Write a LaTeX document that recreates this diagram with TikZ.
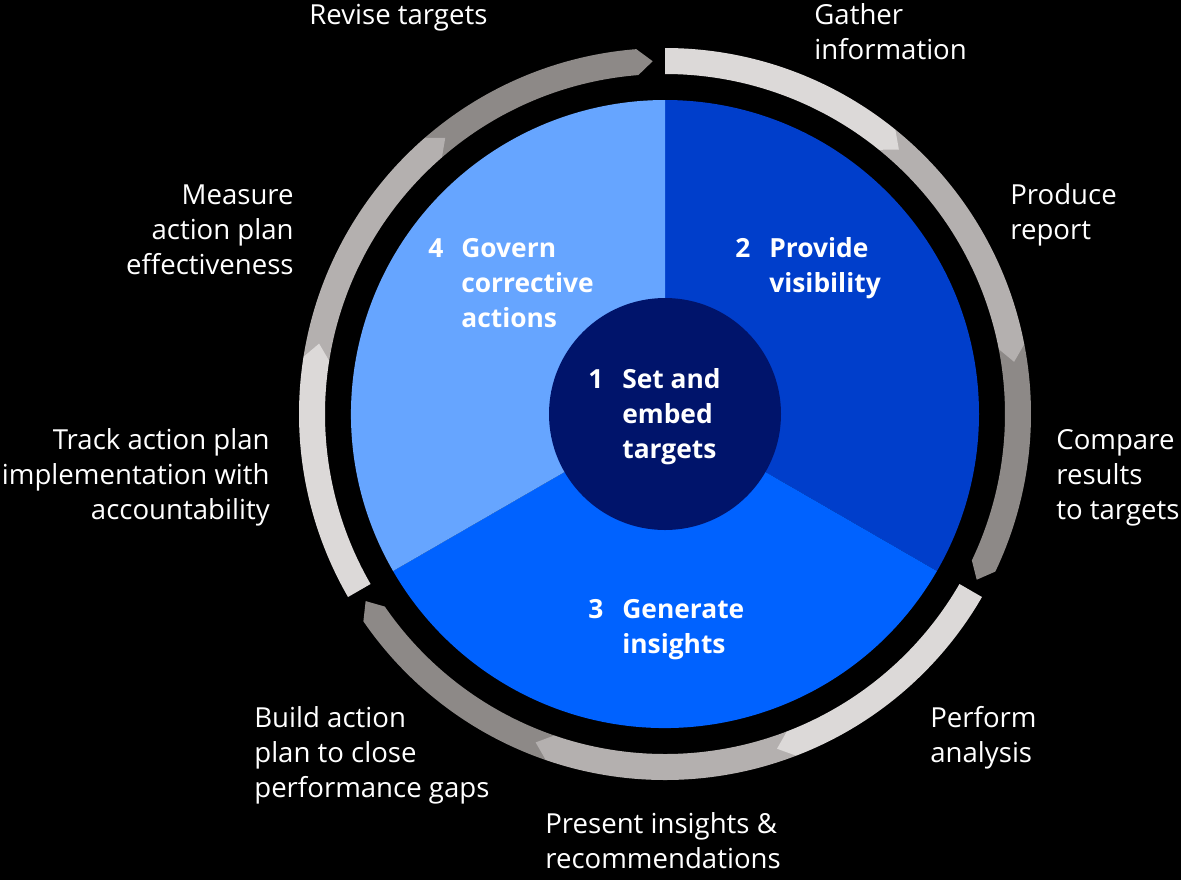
\documentclass[tikz,border=0pt]{standalone}
\usepackage{fontspec}
\setmainfont{Open Sans}
\definecolor{ringlight}{HTML}{DCD9D8}
\definecolor{ringmid}{HTML}{B4B0AF}
\definecolor{ringdark}{HTML}{8D8987}
\definecolor{bluelight}{HTML}{66A5FF}
\definecolor{bluemid}{HTML}{0062FF}
\definecolor{bluedark}{HTML}{003ECB}
\definecolor{bluecore}{HTML}{00146B}
\tikzset{
  steptext/.style={text=white, inner sep=0pt, font=\fontsize{15.7}{19.8}\selectfont},
  phasetext/.style={text=white, inner sep=0pt, font=\bfseries\fontsize{15}{19.8}\selectfont, align=left},
}
\newcommand{\ringarrow}[3]{%
  \fill[#1] (#2:\ro) arc[start angle=#2, end angle={#3+\tip}, radius=\ro]
    -- (#3:\rm) -- ({#3+\tip}:\ri) arc[start angle={#3+\tip}, end angle=#2, radius=\ri] -- cycle;}
\begin{document}
\begin{tikzpicture}[x=0.02cm, y=0.02cm]
    \def\ro{366}
    \def\ri{340}
    \def\rm{353}
    \def\tip{2.5}
    \fill[black] (0,0) rectangle (1181,-880);
    \useasboundingbox (0,0) rectangle (1181,-880);
    \begin{scope}[shift={(665,-414)}]
      % phase sectors
      \fill[bluedark] (0,0) -- (90:314) arc[start angle=90, end angle=-30, radius=314] -- cycle;
      \fill[bluemid] (0,0) -- (-30:314) arc[start angle=-30, end angle=-150, radius=314] -- cycle;
      \fill[bluelight] (0,0) -- (210:314) arc[start angle=210, end angle=90, radius=314] -- cycle;
      \fill[bluecore] (0,0) circle[radius=116];
      % outer ring, one group per phase
      \foreach \s in {90,-30,210} {
        \ringarrow{ringdark}{\s-79}{\s-118}
        \ringarrow{ringmid}{\s-39}{\s-81.5}
        \ringarrow{ringlight}{\s}{\s-41.5}
      }
    \end{scope}
    % phases (base = last line)
    \node[phasetext, anchor=base west] (P1_n) at (588,-388) {1};
    \node[phasetext, anchor=base west] (P1_t) at (622,-458) {Set and\\embed\\targets};
    \node[phasetext, anchor=base west] (P2_n) at (735,-257) {2};
    \node[phasetext, anchor=base west] (P2_t) at (769,-292) {Provide\\visibility};
    \node[phasetext, anchor=base west] (P3_n) at (588,-618) {3};
    \node[phasetext, anchor=base west] (P3_t) at (622,-653) {Generate\\insights};
    \node[phasetext, anchor=base west] (P4_n) at (428,-257) {4};
    \node[phasetext, anchor=base west] (P4_t) at (461,-327) {Govern\\corrective\\actions};
    % steps round the ring
    \node[steptext, anchor=base west, align=left] (S1) at (814,-59) {Gather\\information};
    \node[steptext, anchor=base west, align=left] (S2) at (1010,-239) {Produce\\report};
    \node[steptext, anchor=base west, align=left] (S3) at (1056,-519) {Compare\\results\\to targets};
    \node[steptext, anchor=base west, align=left] (S4) at (930,-762) {Perform\\analysis};
    \node[steptext, anchor=base west, align=left] (S5) at (545,-868) {Present insights \&\\recommendations};
    \node[steptext, anchor=base west, align=left] (S6) at (254,-797) {Build action\\plan to close\\performance gaps};
    \node[steptext, anchor=base east, align=right] (S7) at (270,-519) {Track action plan\\implementation with\\accountability};
    \node[steptext, anchor=base east, align=right] (S8) at (294,-274) {Measure\\action plan\\effectiveness};
    \node[steptext, anchor=base west, align=left] (S9) at (309,-24) {Revise targets};
\end{tikzpicture}
\end{document}
